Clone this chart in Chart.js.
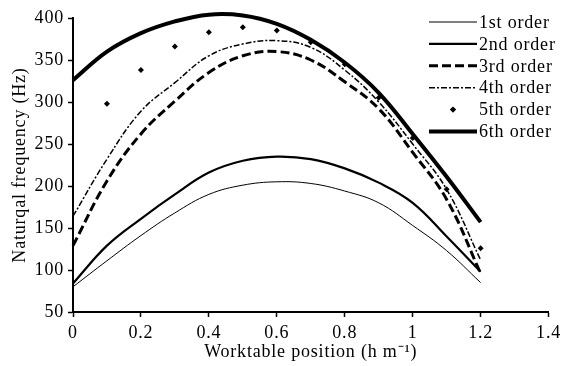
<!DOCTYPE html>
<html>
<head>
<meta charset="utf-8">
<script src="https://cdn.jsdelivr.net/npm/chart.js@4.4.1/dist/chart.umd.min.js"></script>
<style>
  html, body { margin: 0; padding: 0; background: #fff; }
  #wrap { width: 566px; height: 366px; }
</style>
</head>
<body>
<div id="wrap"><canvas id="freqChart" width="566" height="366"></canvas></div>
<script>
// --- Datos ---
const positions = [0, 0.1, 0.2, 0.3, 0.4, 0.5, 0.6, 0.7, 0.8, 0.9, 1.0, 1.1, 1.2];
const order1 = [80, 111, 141, 168, 190, 201, 205, 203, 194, 180, 153, 123, 85];
const order2 = [84, 129, 161, 190, 216, 230, 235, 232, 221, 204, 180, 140, 98];
const order3 = [129, 206, 262, 301, 335, 355, 360, 350, 324, 292, 240, 184, 96];
const order4 = [164, 232, 289, 323, 355, 369, 373, 365, 338, 300, 250, 196, 112];
const order5Pos = [0.1, 0.2, 0.3, 0.4, 0.5, 0.6, 0.7, 0.8, 0.9, 1.0, 1.1, 1.2];
const order5 = [298, 338, 366, 383, 389, 385, 371, 345, 305, 257, 196, 126];
const order6 = [326, 360, 382, 396, 404, 403, 393, 374, 347, 311, 262, 211, 157];
const labels = ['1st order', '2nd order', '3rd order', '4th order', '5th order', '6th order'];
const xTicks = [0, 0.2, 0.4, 0.6, 0.8, 1, 1.2, 1.4];
const yTicks = [50, 100, 150, 200, 250, 300, 350, 400];

const FONT = 'Liberation Serif, Times New Roman, serif';
const FSIZE = 18;
const SPACING = '0.8px';
const toXY = (xs, ys) => xs.map((x, i) => ({ x: x, y: ys[i] }));

// el texto del original es algo más ancho: espaciado de letras
const wideText = {
    id: 'wideText',
    beforeLayout(chart) { chart.ctx.letterSpacing = SPACING; },
    beforeDraw(chart) { chart.ctx.letterSpacing = SPACING; }
};

// --- Leyenda dibujada a mano (estilo de línea de cada serie) ---
const lineLegend = {
    id: 'lineLegend',
    afterDraw(chart) {
        const ctx = chart.ctx;
        const x0 = 429, x1 = 477, textX = 479;
        ctx.save();
        ctx.font = FSIZE + 'px ' + FONT;
        ctx.fillStyle = '#000';
        ctx.textBaseline = 'middle';
        chart.data.datasets.forEach((ds, i) => {
            const y = 22 + i * 21.9;
            ctx.strokeStyle = '#000';
            if (ds.showLine === false) {
                const cx = 453;
                ctx.beginPath();
                ctx.moveTo(cx, y - 3.2);
                ctx.lineTo(cx + 3.2, y);
                ctx.lineTo(cx, y + 3.2);
                ctx.lineTo(cx - 3.2, y);
                ctx.closePath();
                ctx.fill();
            } else {
                ctx.lineWidth = ds.borderWidth;
                ctx.setLineDash(ds.borderDash || []);
                ctx.beginPath();
                ctx.moveTo(x0, y);
                ctx.lineTo(x1, y);
                ctx.stroke();
                ctx.setLineDash([]);
            }
            ctx.fillText(ds.label, textX, y + 1);
        });
        ctx.restore();
    }
};

const ctx = document.getElementById('freqChart').getContext('2d');
new Chart(ctx, {
    type: 'scatter',
    data: {
        datasets: [
            { label: labels[0], data: toXY(positions, order1), showLine: true, borderColor: '#000', borderWidth: 1, pointRadius: 0, tension: 0.4 },
            { label: labels[1], data: toXY(positions, order2), showLine: true, borderColor: '#000', borderWidth: 2.2, pointRadius: 0, tension: 0.4 },
            { label: labels[2], data: toXY(positions, order3), showLine: true, borderColor: '#000', borderWidth: 3, borderDash: [9, 4], pointRadius: 0, tension: 0.4 },
            { label: labels[3], data: toXY(positions, order4), showLine: true, borderColor: '#000', borderWidth: 1.5, borderDash: [6, 2, 2, 2], pointRadius: 0, tension: 0.4 },
            { label: labels[4], data: toXY(order5Pos, order5), showLine: false, backgroundColor: '#000', borderColor: '#000', pointStyle: 'rectRot', pointRadius: 3, borderWidth: 0 },
            { label: labels[5], data: toXY(positions, order6), showLine: true, borderColor: '#000', borderWidth: 4, pointRadius: 0, tension: 0.4 }
        ]
    },
    options: {
        responsive: false,
        animation: false,
        clip: false,
        layout: { padding: { top: 18, right: 14, left: 0, bottom: 0 } },
        plugins: {
            legend: { display: false },
            tooltip: { enabled: false }
        },
        scales: {
            x: {
                type: 'linear',
                min: 0,
                max: 1.4,
                afterBuildTicks: (s) => { s.ticks = xTicks.map(v => ({ value: v })); },
                afterFit: (s) => { s.height = 54; },
                ticks: {
                    color: '#000',
                    padding: 5,
                    font: { family: FONT, size: FSIZE },
                    callback: (v) => String(+Number(v).toFixed(1))
                },
                grid: { drawOnChartArea: false, drawTicks: true, tickLength: 5, tickColor: '#000', tickWidth: 1.5 },
                border: { display: true, color: '#000', width: 2 },
                title: {
                    display: true,
                    text: 'Worktable position (h m\u207B\u00B9)',
                    color: '#000',
                    font: { family: FONT, size: FSIZE },
                    padding: { top: 0, bottom: 3 }
                }
            },
            y: {
                min: 50,
                max: 400,
                afterBuildTicks: (s) => { s.ticks = yTicks.map(v => ({ value: v })); },
                afterFit: (s) => { s.width = 73; },
                ticks: {
                    color: '#000',
                    padding: 4,
                    font: { family: FONT, size: FSIZE }
                },
                grid: { drawOnChartArea: false, drawTicks: true, tickLength: 5, tickColor: '#000', tickWidth: 1.5 },
                border: { display: true, color: '#000', width: 2 },
                title: {
                    display: true,
                    text: 'Naturqal frequency (Hz)',
                    color: '#000',
                    font: { family: FONT, size: FSIZE },
                    padding: { top: 9, bottom: 0 }
                }
            }
        }
    },
    plugins: [wideText, lineLegend]
});
</script>
</body>
</html>
